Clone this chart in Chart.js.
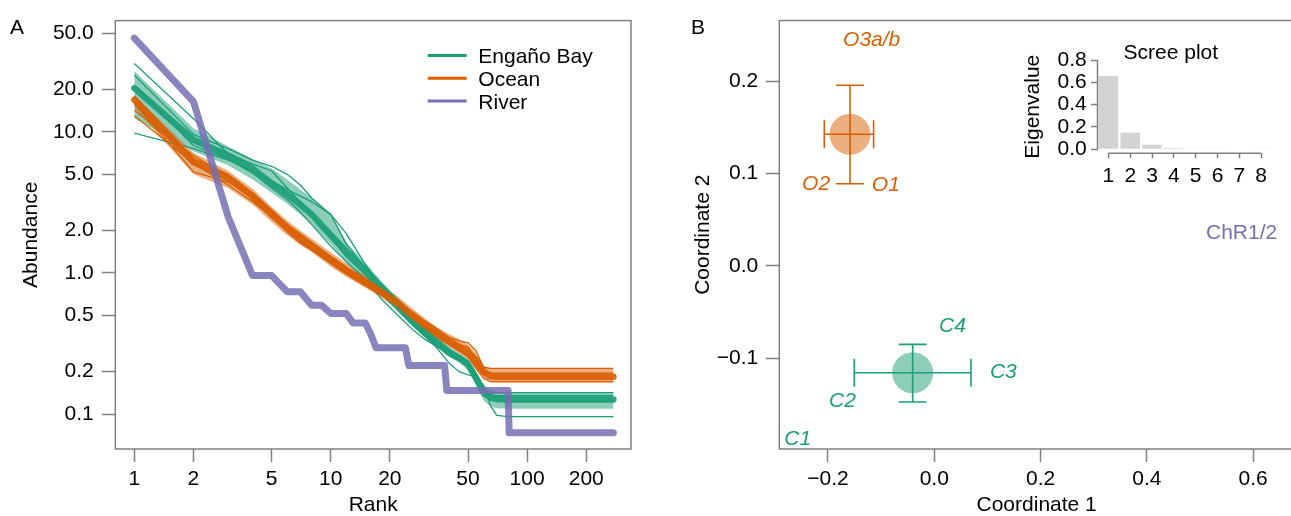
<!DOCTYPE html>
<html><head><meta charset="utf-8">
<script src="https://cdn.jsdelivr.net/npm/chart.js@4.4.0/dist/chart.umd.min.js"></script>
<style>
html,body{margin:0;padding:0;overflow:hidden;background:#fff;width:1291px;height:516px;position:relative;}
canvas{position:absolute;}
.lbl{position:absolute;font-family:"Liberation Sans",Arial,sans-serif;font-size:21px;line-height:21px;color:#000;white-space:nowrap;}
</style></head><body>
<canvas id="cA" width="680" height="516" style="left:0;top:0"></canvas>
<canvas id="cB" width="640" height="516" style="left:680px;top:0"></canvas>
<canvas id="cS" width="291" height="165" style="left:1000px;top:35px"></canvas>
<div class="lbl" style="left:10px;top:15.5px">A</div>
<div class="lbl" style="left:691px;top:15.5px">B</div>
<div class="lbl" style="left:1170.8px;top:40.5px;transform:translateX(-50%)">Scree plot</div>
<script>
// ---------------- DATA ----------------
const groupNames = ['Engaño Bay', 'Ocean', 'River'];

// Panel A: rank-abundance curves
const rankTicks = [1, 2, 5, 10, 20, 50, 100, 200];
const abundanceTicks = [0.1, 0.2, 0.5, 1, 2, 5, 10, 20, 50];
const abundanceTickLabels = ['0.1', '0.2', '0.5', '1.0', '2.0', '5.0', '10.0', '20.0', '50.0'];

const ranks = [1, 2, 3, 4, 5, 6, 7, 8, 10, 12, 15, 18, 22, 26, 30, 35, 40, 45, 50, 55, 60, 65, 70, 80, 275];

const bayMean  = [20.4, 8.8, 6.8, 5.5, 4.3, 3.6, 3.05, 2.6, 1.85, 1.42, 1.05, 0.8, 0.6, 0.46, 0.38, 0.32, 0.275, 0.25, 0.225, 0.18, 0.143, 0.133, 0.128, 0.127, 0.127];
const bayUpper = [27, 10.6, 7.9, 6.4, 5.5, 4.6, 3.9, 3.4, 2.6, 1.65, 1.18, 0.88, 0.66, 0.51, 0.42, 0.35, 0.3, 0.27, 0.245, 0.2, 0.16, 0.148, 0.143, 0.142, 0.142];
const bayLower = [12.5, 7.3, 5.8, 4.6, 3.7, 3.1, 2.6, 2.2, 1.6, 1.2, 0.9, 0.7, 0.54, 0.42, 0.35, 0.295, 0.255, 0.232, 0.205, 0.16, 0.125, 0.113, 0.11, 0.109, 0.109];
const bayC1 = [30.5, 12.4, 7.0, 5.9, 5.3, 4.0, 3.2, 2.6, 1.8, 1.3, 0.97, 0.72, 0.54, 0.43, 0.36, 0.3, 0.26, 0.24, 0.22, 0.17, 0.135, 0.125, 0.123, 0.123, 0.123];
const bayC2 = [25.3, 9.6, 7.6, 6.3, 5.7, 5.0, 4.2, 3.4, 2.6, 1.6, 1.08, 0.8, 0.6, 0.46, 0.38, 0.32, 0.28, 0.26, 0.24, 0.19, 0.15, 0.143, 0.142, 0.142, 0.142];
const bayC3 = [9.8, 7.6, 6.3, 5.3, 4.5, 3.9, 3.5, 3.2, 2.6, 1.9, 1.15, 0.8, 0.58, 0.44, 0.36, 0.29, 0.23, 0.2, 0.19, 0.185, 0.16, 0.115, 0.098, 0.096, 0.096];
const bayC4 = [21.5, 8.0, 6.4, 5.1, 4.0, 3.3, 2.7, 2.2, 1.55, 1.2, 0.9, 0.66, 0.5, 0.4, 0.34, 0.3, 0.27, 0.25, 0.23, 0.17, 0.14, 0.135, 0.135, 0.135, 0.135];

const oceanMean  = [16.9, 6.1, 4.7, 3.5, 2.65, 2.1, 1.8, 1.57, 1.25, 1.05, 0.87, 0.74, 0.61, 0.5, 0.43, 0.37, 0.33, 0.3, 0.275, 0.24, 0.2, 0.186, 0.184, 0.184, 0.184];
const oceanUpper = [18.2, 7.1, 5.3, 3.95, 2.95, 2.35, 2.0, 1.75, 1.4, 1.17, 0.96, 0.82, 0.68, 0.56, 0.48, 0.41, 0.37, 0.34, 0.31, 0.27, 0.22, 0.211, 0.21, 0.21, 0.21];
const oceanLower = [14.8, 5.0, 4.0, 3.05, 2.3, 1.85, 1.58, 1.4, 1.11, 0.94, 0.79, 0.67, 0.55, 0.45, 0.39, 0.34, 0.3, 0.27, 0.245, 0.21, 0.18, 0.168, 0.167, 0.167, 0.167];
const oceanO1  = [18.0, 6.5, 5.0, 3.7, 2.75, 2.15, 1.83, 1.62, 1.3, 1.07, 0.89, 0.76, 0.63, 0.53, 0.46, 0.4, 0.35, 0.33, 0.32, 0.28, 0.215, 0.211, 0.211, 0.211, 0.211];
const oceanO2  = [16.0, 5.2, 4.4, 3.5, 2.65, 2.1, 1.73, 1.52, 1.25, 1.02, 0.85, 0.73, 0.6, 0.5, 0.43, 0.37, 0.33, 0.31, 0.3, 0.24, 0.2, 0.195, 0.195, 0.195, 0.195];
const oceanO3a = [14.2, 6.8, 4.8, 3.3, 2.45, 2.0, 1.68, 1.47, 1.2, 1.0, 0.84, 0.72, 0.6, 0.49, 0.42, 0.36, 0.32, 0.29, 0.26, 0.22, 0.19, 0.18, 0.18, 0.18, 0.18];
const oceanO3b = [13.0, 6.0, 4.2, 3.2, 2.5, 1.95, 1.63, 1.45, 1.17, 0.98, 0.81, 0.7, 0.58, 0.47, 0.41, 0.35, 0.31, 0.28, 0.255, 0.21, 0.18, 0.17, 0.17, 0.17, 0.17];

const riverRanks = [1, 2, 3, 4, 5, 6, 7, 8, 9, 10, 12, 13, 15, 16, 17, 24, 25, 38, 39, 80, 81, 275];
const riverAbund = [46.1, 16.4, 2.51, 0.958, 0.958, 0.737, 0.737, 0.590, 0.590, 0.516, 0.516, 0.442, 0.442, 0.368, 0.295, 0.295, 0.221, 0.221, 0.147, 0.147, 0.0737, 0.0737];

// Panel B: ordination
const coordXTicks = [-0.2, 0, 0.2, 0.4, 0.6];
const coordXTickLabels = ['\u22120.2', '0.0', '0.2', '0.4', '0.6'];
const coordYTicks = [-0.1, 0, 0.1, 0.2];
const coordYTickLabels = ['\u22120.1', '0.0', '0.1', '0.2'];

const centroidGroups = ['Ocean', 'Engaño Bay'];
const centroidX = [-0.1586, -0.0407];
const centroidY = [0.1426, -0.1159];
const xErrLow  = [-0.2070, -0.1505];
const xErrHigh = [-0.1142, 0.0690];
const yErrLow  = [0.0890, -0.1476];
const yErrHigh = [0.1957, -0.0852];

const sampleLabels = ['O3a/b', 'O2', 'O1', 'ChR1/2', 'C4', 'C3', 'C2', 'C1'];
const sampleX = [-0.1178, -0.2224, -0.0912, 0.5782, 0.0341, 0.1299, -0.1727, -0.2570];
const sampleY = [0.2463, 0.0904, 0.0891, 0.0374, -0.0633, -0.1133, -0.1444, -0.1863];
const sampleGroup = ['Ocean', 'Ocean', 'Ocean', 'River', 'Engaño Bay', 'Engaño Bay', 'Engaño Bay', 'Engaño Bay'];

// Scree plot
const screeAxes = ['1', '2', '3', '4', '5', '6', '7', '8'];
const eigenvalues = [0.657, 0.149, 0.041, 0.012, 0.007, 0.002, 0.004, 0.003];
const eigenTicks = [0, 0.2, 0.4, 0.6, 0.8];
const eigenTickLabels = ['0.0', '0.2', '0.4', '0.6', '0.8'];

// ---------------- STYLE ----------------
const FAMILY = '"Liberation Sans", Arial, Helvetica, sans-serif';
Chart.defaults.font.family = FAMILY;
Chart.defaults.font.size = 21;
Chart.defaults.color = '#000';
const GREY = '#808080';
const COLORS = {'Engaño Bay': '#1B9E77', 'Ocean': '#D95F02', 'River': '#7570B3'};
function rgba(hex, a) { const n = parseInt(hex.slice(1), 16); return `rgba(${n >> 16},${(n >> 8) & 255},${n & 255},${a})`; }
function pts(xs, ys) { return xs.map((x, i) => ({x: x, y: ys[i]})); }
const titleFont = {family: FAMILY, size: 21, lineHeight: 1};

const framePlugin = {
  id: 'frame',
  afterDraw(chart) {
    const {ctx, chartArea: a} = chart;
    ctx.save(); ctx.strokeStyle = GREY; ctx.lineWidth = 1.5;
    ctx.strokeRect(a.left, a.top, a.right - a.left, a.bottom - a.top);
    ctx.restore();
  }
};

// ---------------- PANEL A ----------------
const dsA = [];
function band(lower, upper, color) {
  dsA.push({data: pts(ranks, lower), borderWidth: 0, pointRadius: 0, fill: false});
  dsA.push({data: pts(ranks, upper), borderWidth: 0, pointRadius: 0, fill: '-1', backgroundColor: rgba(color, 0.5)});
}
function line(xs, ys, color, width, alpha) {
  dsA.push({data: pts(xs, ys), borderColor: rgba(color, alpha), borderWidth: width, pointRadius: 0, fill: false,
            borderCapStyle: width > 3 ? 'round' : 'butt', borderJoinStyle: 'round', tension: 0});
}
const cBay = COLORS['Engaño Bay'], cOce = COLORS['Ocean'], cRiv = COLORS['River'];
band(bayLower, bayUpper, cBay);
band(oceanLower, oceanUpper, cOce);
[bayC1, bayC2, bayC3, bayC4].forEach(s => line(ranks, s, cBay, 1.3, 1));
[oceanO1, oceanO2, oceanO3a, oceanO3b].forEach(s => line(ranks, s, cOce, 1.3, 1));
line(ranks, bayMean, cBay, 6.5, 0.9);
line(ranks, oceanMean, cOce, 6.5, 0.9);
line(riverRanks, riverAbund, cRiv, 7, 0.85);
dsA.forEach((d, i) => { d.order = dsA.length - i; });

const legendPlugin = {
  id: 'legendA',
  afterDraw(chart) {
    const ctx = chart.ctx;
    ctx.save();
    ctx.font = '21px ' + FAMILY; ctx.fillStyle = '#000'; ctx.textBaseline = 'alphabetic'; ctx.textAlign = 'left';
    groupNames.forEach((g, i) => {
      const y = 55.5 + i * 22.8;
      ctx.strokeStyle = COLORS[g]; ctx.lineWidth = 3;
      ctx.beginPath(); ctx.moveTo(427.7, y); ctx.lineTo(466.7, y); ctx.stroke();
      ctx.fillText(g, 478.3, y + 7.6);
    });
    ctx.restore();
  }
};

new Chart(document.getElementById('cA'), {
  type: 'line',
  data: {datasets: dsA},
  options: {
    responsive: false, animation: false, events: [],
    layout: {padding: {left: 0, right: 49, top: 14.7, bottom: 0}},
    plugins: {legend: {display: false}, tooltip: {enabled: false}},
    scales: {
      x: {
        type: 'logarithmic', min: 0.8, max: 338, bounds: 'data',
        afterBuildTicks: s => { s.ticks = rankTicks.map(v => ({value: v})); },
        afterFit: s => { s.height = 67; },
        ticks: {callback: (v, i) => String(rankTicks[i]), padding: 5, maxRotation: 0, autoSkip: false, color: '#000'},
        grid: {drawOnChartArea: false, drawTicks: true, tickLength: 13, tickColor: GREY, tickWidth: 1.5},
        border: {display: false},
        title: {display: true, text: 'Rank', font: titleFont, color: '#000', padding: {top: 0, bottom: 0.5}}
      },
      y: {
        type: 'logarithmic', min: 0.0566, max: 61.4, bounds: 'data',
        afterBuildTicks: s => { s.ticks = abundanceTicks.map(v => ({value: v})); },
        afterFit: s => { s.width = 115.3; },
        ticks: {callback: (v, i) => abundanceTickLabels[i], padding: 8, autoSkip: false, color: '#000'},
        grid: {drawOnChartArea: false, drawTicks: true, tickLength: 13.5, tickColor: GREY, tickWidth: 1.5},
        border: {display: false},
        title: {display: true, text: 'Abundance', font: titleFont, color: '#000', padding: {top: 21.2, bottom: 0}}
      }
    }
  },
  plugins: [framePlugin, legendPlugin]
});

// ---------------- PANEL B ----------------
const dsB = [];
centroidGroups.forEach((g, i) => {
  dsB.push({data: [{x: centroidX[i], y: centroidY[i]}], pointStyle: 'circle', pointRadius: 20.5,
            pointBackgroundColor: rgba(COLORS[g], 0.5), pointBorderWidth: 0, showLine: false});
});
centroidGroups.forEach((g, i) => {
  const c = COLORS[g];
  dsB.push({data: [{x: centroidX[i], y: yErrLow[i]}, {x: centroidX[i], y: yErrHigh[i]}], showLine: true,
            borderColor: c, borderWidth: 1.6, pointStyle: 'line', pointRadius: 14, pointRotation: 0,
            pointBorderColor: c, pointBorderWidth: 1.6, fill: false});
  dsB.push({data: [{x: xErrLow[i], y: centroidY[i]}, {x: xErrHigh[i], y: centroidY[i]}], showLine: true,
            borderColor: c, borderWidth: 1.6, pointStyle: 'line', pointRadius: 14, pointRotation: 90,
            pointBorderColor: c, pointBorderWidth: 1.6, fill: false});
});
dsB.forEach((d, i) => { d.order = dsB.length - i; });

const sampleLabelPlugin = {
  id: 'sampleLabels',
  afterDatasetsDraw(chart) {
    const {ctx, scales: {x, y}} = chart;
    ctx.save();
    ctx.textAlign = 'center'; ctx.textBaseline = 'alphabetic';
    sampleLabels.forEach((t, i) => {
      const g = sampleGroup[i];
      ctx.font = (g === 'River' ? '' : 'italic ') + '21px ' + FAMILY;
      ctx.fillStyle = COLORS[g];
      ctx.fillText(t, x.getPixelForValue(sampleX[i]), y.getPixelForValue(sampleY[i]) + 7.6);
    });
    ctx.restore();
  }
};

new Chart(document.getElementById('cB'), {
  type: 'scatter',
  data: {datasets: dsB},
  options: {
    responsive: false, animation: false, events: [],
    layout: {padding: {left: 0, right: 26, top: 14.7, bottom: 0}},
    plugins: {legend: {display: false}, tooltip: {enabled: false}},
    scales: {
      x: {
        type: 'linear', min: -0.2916, max: 0.6768, bounds: 'data',
        afterBuildTicks: s => { s.ticks = coordXTicks.map(v => ({value: v})); },
        afterFit: s => { s.height = 67; },
        ticks: {callback: (v, i) => coordXTickLabels[i], padding: 5, maxRotation: 0, autoSkip: false, color: '#000'},
        grid: {drawOnChartArea: false, drawTicks: true, tickLength: 13, tickColor: GREY, tickWidth: 1.5},
        border: {display: false},
        title: {display: true, text: 'Coordinate 1', font: titleFont, color: '#000', padding: {top: 0, bottom: 0.5}}
      },
      y: {
        type: 'linear', min: -0.1986, max: 0.2659, bounds: 'data',
        afterBuildTicks: s => { s.ticks = coordYTicks.map(v => ({value: v})); },
        afterFit: s => { s.width = 99.3; },
        ticks: {callback: (v, i) => coordYTickLabels[i], padding: 7.4, autoSkip: false, color: '#000'},
        grid: {drawOnChartArea: false, drawTicks: true, tickLength: 13.6, tickColor: GREY, tickWidth: 1.5},
        border: {display: false},
        title: {display: true, text: 'Coordinate 2', font: titleFont, color: '#000', padding: {top: 12.5, bottom: 0}}
      }
    }
  },
  plugins: [framePlugin, sampleLabelPlugin]
});

// ---------------- SCREE INSET ----------------
const rAxesPlugin = {
  id: 'rAxes',
  afterDraw(chart) {
    const {ctx, chartArea: a, scales: {x, y}} = chart;
    ctx.save(); ctx.strokeStyle = GREY; ctx.lineWidth = 1.5;
    ctx.beginPath();
    ctx.moveTo(a.left, y.getPixelForValue(eigenTicks[0]));
    ctx.lineTo(a.left, y.getPixelForValue(eigenTicks[eigenTicks.length - 1]));
    ctx.moveTo(x.getPixelForTick(0), a.bottom);
    ctx.lineTo(x.getPixelForTick(screeAxes.length - 1), a.bottom);
    ctx.stroke(); ctx.restore();
  }
};

new Chart(document.getElementById('cS'), {
  type: 'bar',
  data: {labels: screeAxes, datasets: [{data: eigenvalues, backgroundColor: '#D3D3D3', borderWidth: 0,
         barPercentage: 0.9, categoryPercentage: 1.0}]},
  options: {
    responsive: false, animation: false, events: [],
    layout: {padding: {left: 0, right: 19, top: 25.1, bottom: 0}},
    plugins: {legend: {display: false}, tooltip: {enabled: false}},
    scales: {
      x: {
        type: 'category', offset: true,
        afterFit: s => { s.height = 46.7; },
        ticks: {padding: 5.4, maxRotation: 0, autoSkip: false, color: '#000'},
        grid: {offset: false, drawOnChartArea: false, drawTicks: true, tickLength: 5, tickColor: GREY, tickWidth: 1.5},
        border: {display: false}
      },
      y: {
        type: 'linear', min: -0.036, max: 0.8, bounds: 'data',
        afterBuildTicks: s => { s.ticks = eigenTicks.map(v => ({value: v})); },
        afterFit: s => { s.width = 97.5; },
        ticks: {callback: (v, i) => eigenTickLabels[i], padding: 4.3, autoSkip: false, color: '#000'},
        grid: {drawOnChartArea: false, drawTicks: true, tickLength: 6.5, tickColor: GREY, tickWidth: 1.5},
        border: {display: false},
        title: {display: true, text: 'Eigenvalue', font: titleFont, color: '#000', padding: {top: 22.8, bottom: 0}}
      }
    }
  },
  plugins: [rAxesPlugin]
});
</script>
</body></html>
